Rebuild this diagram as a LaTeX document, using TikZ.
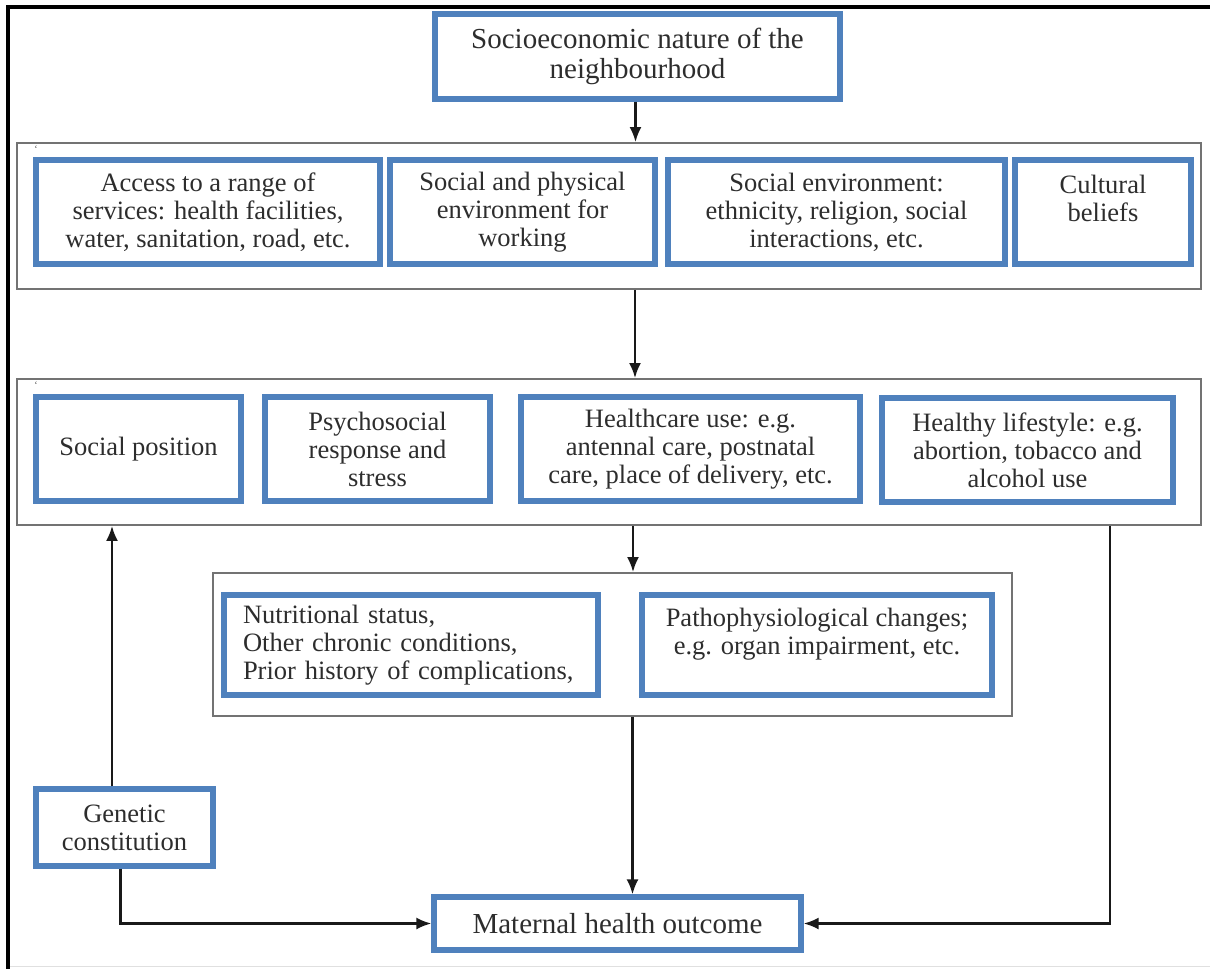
\documentclass[tikz,border=0pt]{standalone}
\usepackage{fontspec}
\setmainfont{Liberation Serif}
\usetikzlibrary{arrows.meta}
\definecolor{boxblue}{RGB}{79,129,189}
\definecolor{txtgray}{RGB}{45,45,45}
\begin{document}
\begin{tikzpicture}[x=1pt,y=-1pt,
  bluebox/.style={draw=boxblue,line width=5.2pt,rectangle,align=center,text=txtgray,
    inner sep=0pt,font={\fontsize{26.5}{28}\selectfont}},
  bigbox/.style={bluebox,font={\fontsize{29}{30}\selectfont}},
  groupbox/.style={draw=black!55,line width=1.8pt,rectangle,inner sep=0pt},
  arr/.style={draw=black!90,line width=2.4pt,-{Latex[length=15pt,width=12pt]}},
  tick/.style={font={\fontsize{10}{10}\selectfont},text=black!70,inner sep=0pt}]
\useasboundingbox (0,0) rectangle (1210,969);
\draw[line width=4pt] (8,969) -- (8,7) -- (1210,7);
\draw[black!12,line width=1pt] (10,966) -- (1210,966);
\node[bigbox,minimum width=405,minimum height=85] (hood) at (637.5,56.5) {Socioeconomic nature of the\\ neighbourhood};
\node[groupbox,minimum width=1184,minimum height=146] (grpA) at (609,216) {};
\node[tick] at (36,149) {`};
\node[bluebox,minimum width=344,minimum height=104] (access) at (208,212) {Access to a range of\\ services: health facilities,\\ water, sanitation, road, etc.};
\node[bluebox,minimum width=265,minimum height=104] (work) at (522.5,212) {Social and physical\\ environment for\\ working};
\node[bluebox,minimum width=337,minimum height=104] (socenv) at (836.5,212) {Social environment:\\ ethnicity, religion, social\\ interactions, etc.};
\node[bluebox,minimum width=176,minimum height=104] (belief) at (1103,212) {Cultural\\ beliefs\\ \mbox{}};
\node[groupbox,minimum width=1184,minimum height=146] (grpB) at (609,452) {};
\node[tick] at (36,385) {`};
\node[bluebox,minimum width=205,minimum height=104] (socpos) at (138.5,449) {Social position};
\node[bluebox,minimum width=225,minimum height=104] (stress) at (377.5,449) {Psychosocial\\ response and\\ stress};
\node[bluebox,minimum width=339,minimum height=104] (care) at (690.5,449) {Healthcare use: e.g.\\ antennal care, postnatal\\ care, place of delivery, etc.};
\node[bluebox,minimum width=291,minimum height=104] (life) at (1027.5,450) {Healthy lifestyle: e.g.\\ abortion, tobacco and\\ alcohol use};
\node[groupbox,minimum width=799,minimum height=143] (grpC) at (612.5,644.5) {};
\node[bluebox,minimum width=374,minimum height=100,align=left,text width=336] (nutri) at (411,645) {Nutritional status,\\ Other chronic conditions,\\ Prior history of complications,};
\node[bluebox,minimum width=350,minimum height=100] (patho) at (817,645) {Pathophysiological changes;\\ e.g. organ impairment, etc.\\ \mbox{}};
\node[bluebox,minimum width=177,minimum height=77] (gene) at (124.5,827.5) {Genetic\\ constitution};
\node[bigbox,minimum width=367,minimum height=53] (outcome) at (617.5,923.5) {Maternal health outcome};
\draw[arr] ([xshift=-2]hood.south) -- ([xshift=-2]hood.south |- grpA.north);
\draw[arr] ([xshift=26]grpA.south) -- ([xshift=26]grpA.south |- grpB.north);
\draw[arr] ([xshift=24]grpB.south) -- ([xshift=24]grpB.south |- grpC.north);
\draw[arr] ([xshift=20]grpC.south) -- ([xshift=20]grpC.south |- outcome.north);
\draw[arr] ([xshift=-12.5]gene.north) -- ([xshift=-12.5]gene.north |- grpB.south);
\draw[arr] ([xshift=-4]gene.south) |- (outcome.west);
\draw[arr] ([xshift=501]grpB.south) |- (outcome.east);
\end{tikzpicture}
\end{document}
